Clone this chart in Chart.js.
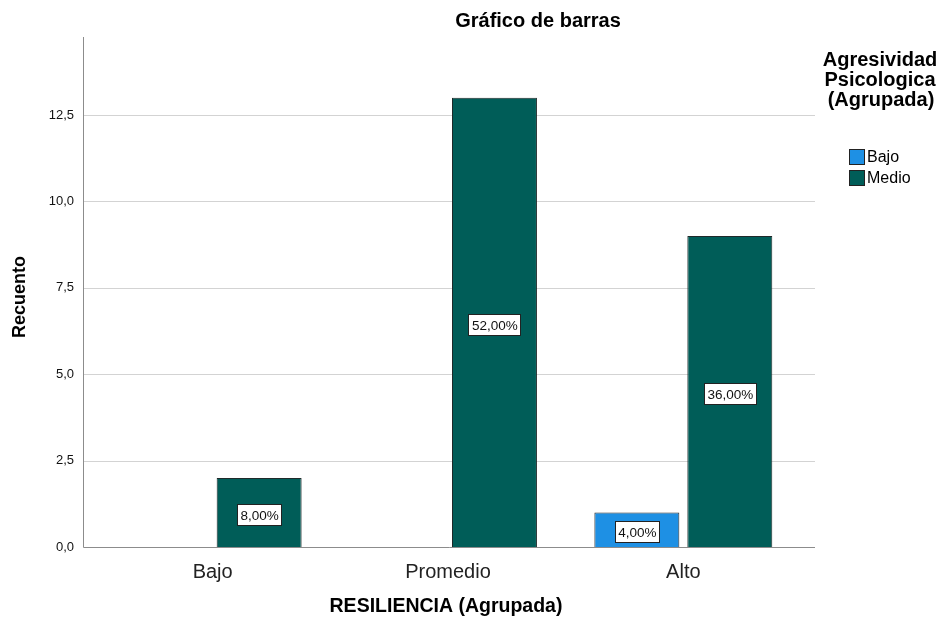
<!DOCTYPE html>
<html>
<head>
<meta charset="utf-8">
<script src="https://cdn.jsdelivr.net/npm/chart.js@4"></script>
<style>
  html, body { margin: 0; padding: 0; background: #fff; }
  #wrap { width: 942px; height: 621px; position: relative; }
</style>
</head>
<body>
<div id="wrap"><canvas id="myChart" width="942" height="621"></canvas></div>
<script>
// data
const categories = ["Bajo", "Promedio", "Alto"];
const seriesNames = ["Bajo", "Medio"];
const bajoCounts = [null, null, 1];
const medioCounts = [2, 13, 9];
const bajoPct = [null, null, "4,00%"];
const medioPct = ["8,00%", "52,00%", "36,00%"];
const yTicks = [0, 2.5, 5, 7.5, 10, 12.5];
const yMax = 14.76;

const FONT = "'Liberation Sans', Arial, sans-serif";

// gridlines + axis lines, a bit wider than the plot like SPSS does
const gridPlugin = {
  id: "spssGrid",
  beforeDatasetsDraw(chart) {
    const ctx = chart.ctx;
    const y = chart.scales.y;
    const left = 83, right = 815;
    ctx.save();
    ctx.lineWidth = 1;
    ctx.strokeStyle = "#d3d3d3";
    yTicks.forEach((v) => {
      if (v === 0) return;
      const py = Math.round(y.getPixelForValue(v)) + 0.5;
      ctx.beginPath();
      ctx.moveTo(left, py);
      ctx.lineTo(right, py);
      ctx.stroke();
    });
    ctx.strokeStyle = "#8c8c8c";
    const base = Math.round(y.getPixelForValue(0)) + 0.5;
    ctx.beginPath();
    ctx.moveTo(left + 0.5, y.getPixelForValue(yMax));
    ctx.lineTo(left + 0.5, base);
    ctx.lineTo(right, base);
    ctx.stroke();
    ctx.restore();
  },
};

// percent labels in white boxes + titles + legend
const textPlugin = {
  id: "spssText",
  afterDatasetsDraw(chart) {
    const ctx = chart.ctx;
    const pcts = [bajoPct, medioPct];
    ctx.save();
    ctx.font = "13.5px " + FONT;
    ctx.textAlign = "center";
    ctx.textBaseline = "middle";
    pcts.forEach((arr, di) => {
      const meta = chart.getDatasetMeta(di);
      meta.data.forEach((bar, i) => {
        if (!arr[i]) return;
        const cx = bar.x;
        const cy = (bar.y + bar.base) / 2 + 2;
        const w = Math.round(ctx.measureText(arr[i]).width + 6);
        const h = 21;
        const bx = Math.round(cx - w / 2), by = Math.round(cy - h / 2);
        ctx.fillStyle = "#fff";
        ctx.fillRect(bx, by, w, h);
        ctx.strokeStyle = "#222";
        ctx.lineWidth = 1;
        ctx.strokeRect(bx + 0.5, by + 0.5, w, h);
        ctx.fillStyle = "#111";
        ctx.fillText(arr[i], cx + 0.5, cy + 1.5);
      });
    });

    // chart title
    ctx.fillStyle = "#000";
    ctx.font = "bold 20px " + FONT;
    ctx.fillText("Gráfico de barras", 538, 21);

    // axis titles
    ctx.font = "bold 19.5px " + FONT;
    ctx.fillText("RESILIENCIA (Agrupada)", 446, 607);
    ctx.save();
    ctx.translate(20, 297);
    ctx.rotate(-Math.PI / 2);
    ctx.font = "bold 18px " + FONT;
    ctx.fillText("Recuento", 0, 0);
    ctx.restore();

    // legend
    ctx.font = "bold 20px " + FONT;
    ctx.fillText("Agresividad", 880, 60);
    ctx.fillText("Psicologica", 880, 80);
    ctx.fillText("(Agrupada)", 881, 100);
    ctx.font = "16px " + FONT;
    ctx.textAlign = "left";
    chart.data.datasets.forEach((ds, i) => {
      const by = 149 + i * 21;
      ctx.fillStyle = ds.backgroundColor;
      ctx.fillRect(849, by, 15, 15);
      ctx.strokeStyle = "#222";
      ctx.strokeRect(849.5, by + 0.5, 15, 15);
      ctx.fillStyle = "#000";
      ctx.fillText(ds.label, 867, by + 9);
    });
    ctx.restore();
  },
};

const ctx = document.getElementById("myChart");
new Chart(ctx, {
  type: "bar",
  data: {
    labels: categories,
    datasets: [
      {
        label: seriesNames[0],
        data: bajoCounts,
        backgroundColor: "#1e90e4",
        borderColor: "#2a2a2a",
        borderWidth: 1,
      },
      {
        label: seriesNames[1],
        data: medioCounts,
        backgroundColor: "#005d58",
        borderColor: "#1f2a2a",
        borderWidth: 1,
      },
    ],
  },
  options: {
    responsive: false,
    animation: false,
    layout: { padding: { top: 37, right: 141, left: 0, bottom: 0 } },
    datasets: {
      bar: { categoryPercentage: 0.79, barPercentage: 0.914 },
    },
    plugins: {
      legend: { display: false },
      tooltip: { enabled: false },
      title: { display: false },
    },
    scales: {
      x: {
        grid: { display: false },
        border: { display: false },
        ticks: {
          color: "#222",
          font: { family: FONT, size: 20 },
          padding: 5,
        },
        afterFit(scale) {
          scale.height = 74;
        },
      },
      y: {
        min: 0,
        max: yMax,
        grid: { display: false },
        border: { display: false },
        afterBuildTicks(scale) {
          scale.ticks = yTicks.map((v) => ({ value: v }));
        },
        ticks: {
          color: "#111",
          font: { family: FONT, size: 13 },
          padding: 13,
          callback: (v) => v.toFixed(1).replace(".", ","),
        },
        afterFit(scale) {
          scale.width = 95;
        },
      },
    },
  },
  plugins: [gridPlugin, textPlugin],
});
</script>
</body>
</html>
